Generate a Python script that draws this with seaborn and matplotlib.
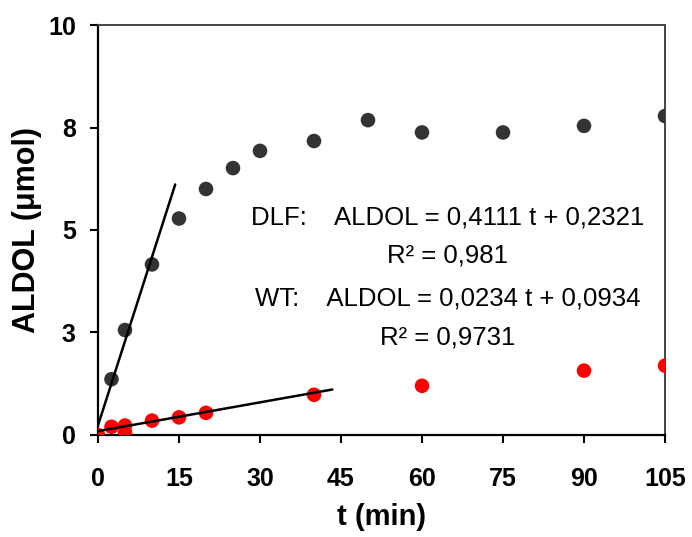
import numpy as np
import pandas as pd
import matplotlib
matplotlib.use("Agg")
import matplotlib.pyplot as plt
import seaborn as sns

# data
dlf_t = [2.5, 5, 10, 15, 20, 25, 30, 40, 50, 60, 75, 90, 105]
dlf_aldol = [1.36, 2.56, 4.16, 5.28, 6.0, 6.51, 6.93, 7.17, 7.68, 7.38, 7.38, 7.54, 7.78]
wt_t = [0, 2.5, 5, 5, 10, 15, 20, 40, 60, 90, 105]
wt_aldol = [0.0, 0.2, 0.23, 0.06, 0.35, 0.43, 0.54, 0.98, 1.2, 1.57, 1.69]

# linear fits shown on the chart
dlf_slope, dlf_icpt, dlf_tmax = 0.4111, 0.2321, 14.3
wt_slope, wt_icpt, wt_tmax = 0.0234, 0.0934, 43.4

x_ticks = [0, 15, 30, 45, 60, 75, 90, 105]
y_ticks = [0, 2.5, 5, 7.5, 10]
y_ticklabels = ["0", "3", "5", "8", "10"]

sns.set_style("ticks")
plt.rcParams["font.family"] = ["Liberation Sans", "DejaVu Sans"]
plt.rcParams["text.color"] = "black"
plt.rcParams["axes.labelcolor"] = "black"
plt.rcParams["xtick.color"] = "black"
plt.rcParams["ytick.color"] = "black"

fig = plt.figure(figsize=(6.92, 5.37), dpi=100)
ax = fig.add_axes([0.1416, 0.19, 0.8194, 0.7634])

dlf = pd.DataFrame({"t": dlf_t, "aldol": dlf_aldol})
wt = pd.DataFrame({"t": wt_t, "aldol": wt_aldol})
sns.scatterplot(data=dlf, x="t", y="aldol", color="#333333", s=110, edgecolor="none", ax=ax, zorder=3)
sns.scatterplot(data=wt, x="t", y="aldol", color="#ff0000", s=110, edgecolor="none", ax=ax, zorder=3)

fit_dlf = pd.DataFrame({"t": [0, dlf_tmax]})
fit_dlf["aldol"] = dlf_slope * fit_dlf["t"] + dlf_icpt
fit_wt = pd.DataFrame({"t": [0, wt_tmax]})
fit_wt["aldol"] = wt_slope * fit_wt["t"] + wt_icpt
sns.lineplot(data=fit_dlf, x="t", y="aldol", color="black", lw=1.8, ax=ax, zorder=4)
sns.lineplot(data=fit_wt, x="t", y="aldol", color="black", lw=1.8, ax=ax, zorder=4)

ax.set_xlim(0, 105)
ax.set_ylim(0, 10)
ax.set_xticks(x_ticks)
ax.set_yticks(y_ticks)
ax.set_yticklabels(y_ticklabels)
ax.tick_params(axis="both", direction="out", length=6, width=1.5, labelsize=18)
ax.tick_params(axis="x", pad=17)
ax.tick_params(axis="y", pad=10)
for lab in ax.get_xticklabels() + ax.get_yticklabels():
    lab.set_fontweight("bold")

for s in ["left", "bottom"]:
    ax.spines[s].set_color("black")
    ax.spines[s].set_linewidth(1.6)
for s in ["top", "right"]:
    ax.spines[s].set_visible(True)
    ax.spines[s].set_color("#444444")
    ax.spines[s].set_linewidth(1.4)

ax.set_xlabel("t (min)", fontsize=21, fontweight="bold", labelpad=9)
ax.set_ylabel("ALDOL (μmol)", fontsize=22, fontweight="bold", labelpad=4)

txt_x = 64.8
ax.text(txt_x, 5.3, "DLF:    ALDOL = 0,4111 t + 0,2321", ha="center", va="center", fontsize=18.5)
ax.text(txt_x, 4.39, "R² = 0,981", ha="center", va="center", fontsize=18.5)
ax.text(txt_x, 3.34, "WT:    ALDOL = 0,0234 t + 0,0934", ha="center", va="center", fontsize=18.5)
ax.text(txt_x, 2.37, "R² = 0,9731", ha="center", va="center", fontsize=18.5)

fig.savefig("out.png", dpi=100)
